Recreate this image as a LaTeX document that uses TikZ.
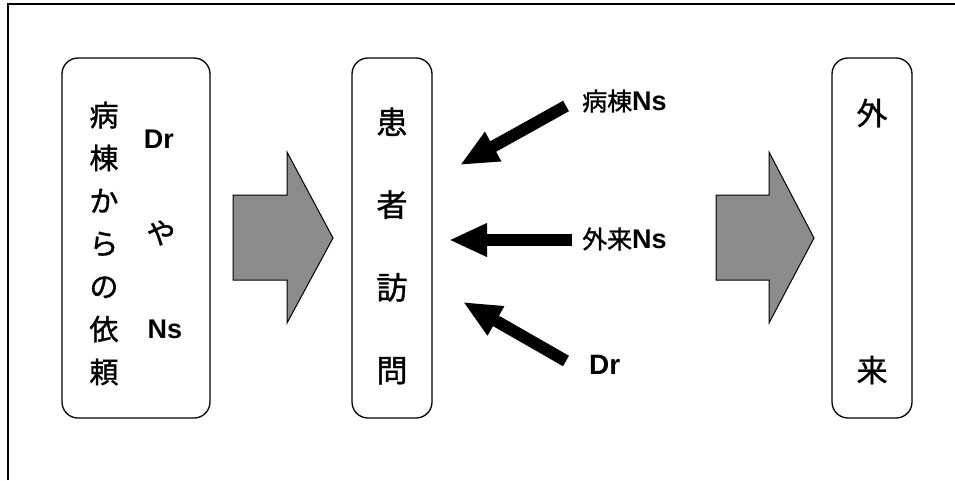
\documentclass[tikz,border=0pt]{standalone}
\usepackage{fontspec}
\setmainfont{Liberation Sans}
\newfontfamily\cjk{Noto Sans CJK JP}[FakeBold=1.2]
\usetikzlibrary{arrows.meta}
\begin{document}
\begin{tikzpicture}[x=1pt,y=-1pt,
  boxnode/.style={draw,line width=1.3pt,rounded corners=16pt,minimum width=80pt,minimum height=360pt,inner sep=0pt},
  jp/.style={font=\cjk\fontsize{31}{34}\selectfont,inner sep=0pt},
  lat/.style={font=\bfseries\fontsize{27}{30}\selectfont,inner sep=0pt},
  blockarrow/.style={draw,line width=1pt,fill=black!45,line join=miter},
  fatarrow/.style={line width=12pt,-{Triangle[length=38pt,width=31pt]}}]
\useasboundingbox (0,0) rectangle (955,480);
% frame
\draw[line width=2pt] (8,480) -- (8,4) -- (955,4);
% boxes
\node[boxnode,minimum width=148pt] (req) at (136,238) {};
\node[boxnode] (visit) at (392,238) {};
\node[boxnode] (out) at (872,238) {};
% left box text
\node[jp,align=center,font=\cjk\fontsize{29}{42.8}\selectfont] (reqtxt) at (104,243.5) {病\\棟\\か\\ら\\の\\依\\頼};
\node[lat] (dr1) at (159,139) {Dr};
\node[jp,font=\cjk\fontsize{29}{34}\selectfont] (ya) at (161,233) {や};
\node[lat] (ns1) at (165,329) {Ns};
% middle box text
\node[jp,align=center,font=\cjk\fontsize{31}{82.7}\selectfont] (vtxt) at (392,246) {患\\者\\訪\\問};
% right box text
\node[jp] (o1) at (872,113) {外};
\node[jp] (o2) at (872,370) {来};
% block arrows
\filldraw[blockarrow] (233,195) -- (287,195) -- (287,152) -- (333,238) -- (287,323) -- (287,280) -- (233,280) -- cycle;
\filldraw[blockarrow] (716,195) -- (769,195) -- (769,152) -- (814,238) -- (769,323) -- (769,280) -- (716,280) -- cycle;
% labels
\node[anchor=west,inner sep=0pt] (lab1) at (582,101) {{\cjk\fontsize{25}{28}\selectfont 病棟}{\bfseries\fontsize{27}{28}\selectfont Ns}};
\node[anchor=west,inner sep=0pt] (lab2) at (582,239) {{\cjk\fontsize{25}{28}\selectfont 外来}{\bfseries\fontsize{27}{28}\selectfont Ns}};
\node[anchor=west,inner sep=0pt,font=\bfseries\fontsize{28}{30}\selectfont] (lab3) at (589,365) {Dr};
% black arrows
\coordinate (s1) at (566,106);
\coordinate (t1) at (460,165);
\coordinate (s2) at (572,240);
\coordinate (t2) at (449,240);
\coordinate (s3) at (566,361);
\coordinate (t3) at (463,302);
\draw[fatarrow] (s1) -- (t1);
\draw[fatarrow] (s2) -- (t2);
\draw[fatarrow] (s3) -- (t3);
\end{tikzpicture}
\end{document}
